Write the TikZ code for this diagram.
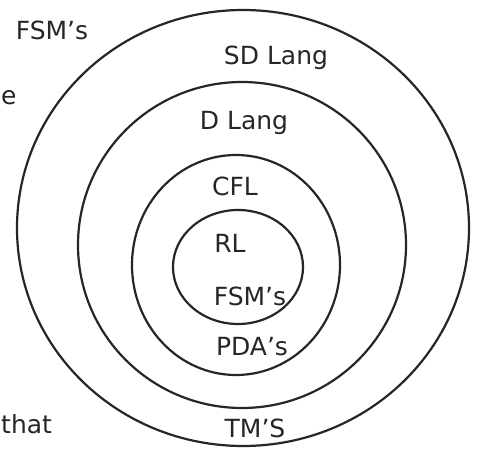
\documentclass[tikz,border=0pt]{standalone}
\usepackage{fontspec}
\setmainfont{DejaVu Sans}
\begin{document}
\begin{tikzpicture}[x=1pt,y=-1pt,
  ring/.style={draw=black!85,line width=2.2pt},
  lbl/.style={font=\fontsize{25}{29}\selectfont,text=black!85,inner sep=0pt}]
\useasboundingbox (0,0) rectangle (477,457);
\fill[white] (0,0) rectangle (477,457);
\draw[ring] (243,228) ellipse [x radius=226, y radius=218];
\draw[ring] (242,245) ellipse [x radius=164, y radius=163];
\draw[ring] (236,265) ellipse [x radius=104, y radius=110];
\draw[ring] (238,267) ellipse [x radius=65, y radius=57];
\node[lbl] (fsmtop) at (52,30) {FSM's};
\node[lbl,anchor=west] (e) at (1,98) {e};
\node[lbl,anchor=west] (that) at (1,424) {that};
\node[lbl] (sd) at (276,58) {SD Lang};
\node[lbl] (d) at (244,123) {D Lang};
\node[lbl] (cfl) at (235,186) {CFL};
\node[lbl] (rl) at (230,243) {RL};
\node[lbl] (fsm) at (250,296) {FSM's};
\node[lbl] (pda) at (252,347) {PDA's};
\node[lbl] (tm) at (255,428) {TM'S};
\end{tikzpicture}
\end{document}
